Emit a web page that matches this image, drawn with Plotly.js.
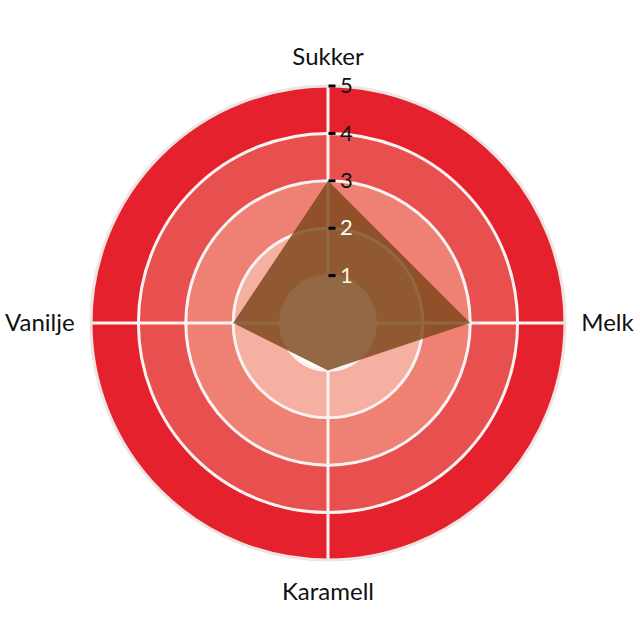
<!DOCTYPE html>
<html>
<head>
<meta charset="utf-8">
<script src="https://cdn.plot.ly/plotly-3.0.1.min.js"></script>
<style>
  html, body { margin: 0; padding: 0; background: #fff; }
  #myPlot { width: 640px; height: 640px; }
</style>
</head>
<body>
<div id="myPlot"></div>
<script>
// categories round the circle, clockwise from the top
var categories = ['Sukker', 'Melk', 'Karamell', 'Vanilje'];
var scores = [3, 3, 1, 2];

// radial ticks
var tickValues = [1, 2, 3, 4, 5];
var tickLabels = ['1', '2', '3', '4', '5'];
var tickColors = ['#fff4d6', '#ffffff', '#111111', '#111111', '#111111'];

// background bands (outer edge of each band) and their colours
var bandEdges = [1, 2, 3, 4, 5];
var bandColors = ['#ffffff', '#f5b0a2', '#ee8174', '#e8504f', '#e4212d'];
var bandAngles = [45, 135, 225, 315];

var fontFace = 'Lato, "Open Sans", sans-serif';

function renderPlot() {

    let traces = [];

    // coloured rings, drawn on the lower polar subplot
    for (let i = 0; i < bandEdges.length; i++) {
        let inner = i === 0 ? 0 : bandEdges[i - 1];
        traces.push({
            type: 'barpolar',
            subplot: 'polar',
            theta: bandAngles,
            r: bandAngles.map(function () { return bandEdges[i] - inner; }),
            base: bandAngles.map(function () { return inner; }),
            width: bandAngles.map(function () { return 90; }),
            marker: { color: bandColors[i], line: { width: 0 } },
            hoverinfo: 'skip',
            showlegend: false
        });
    }

    // the score polygon
    traces.push({
        type: 'scatterpolar',
        subplot: 'polar2',
        r: scores,
        theta: categories,
        fill: 'toself',
        fillcolor: 'rgba(120,68,22,0.8)',
        mode: 'lines',
        line: { width: 0, color: 'rgba(120,68,22,0.8)' },
        showlegend: false
    });

    let ticktext = tickLabels.map(function (t, i) {
        return '<span style="color:' + tickColors[i] + '">' + t + '</span>';
    });

    let dom = { x: [0.1422, 0.8828], y: [0.125, 0.8656] };

    let layout = {
        width: 640,
        height: 640,
        margin: { l: 0, r: 0, t: 0, b: 0 },
        paper_bgcolor: '#ffffff',
        showlegend: false,
        font: { family: fontFace, color: '#111' },
        polar: {
            domain: dom,
            bgcolor: '#ffffff',
            barmode: 'overlay',
            radialaxis: { range: [0, 5], visible: false },
            angularaxis: { visible: false }
        },
        polar2: {
            domain: dom,
            bgcolor: 'rgba(0,0,0,0)',
            radialaxis: {
                range: [0, 5],
                angle: 90,
                tickangle: 90,
                tickmode: 'array',
                tickvals: tickValues,
                ticktext: ticktext,
                tickfont: { size: 22, family: fontFace },
                ticks: 'outside',
                ticklen: 7,
                tickwidth: 3,
                tickcolor: '#000',
                showline: false,
                showgrid: true,
                gridcolor: '#fbf3f2',
                gridwidth: 3
            },
            angularaxis: {
                type: 'category',
                categoryorder: 'array',
                categoryarray: categories,
                rotation: 90,
                direction: 'clockwise',
                showgrid: true,
                gridcolor: '#fbf3f2',
                gridwidth: 3,
                showline: true,
                linecolor: '#ede4e4',
                linewidth: 3,
                ticks: 'outside',
                ticklen: 10,
                tickcolor: 'rgba(0,0,0,0)',
                tickfont: { size: 24, family: fontFace, color: '#111' }
            }
        }
    };

    Plotly.newPlot('myPlot', traces, layout, { displayModeBar: false, staticPlot: true });
}

renderPlot();
</script>
</body>
</html>
